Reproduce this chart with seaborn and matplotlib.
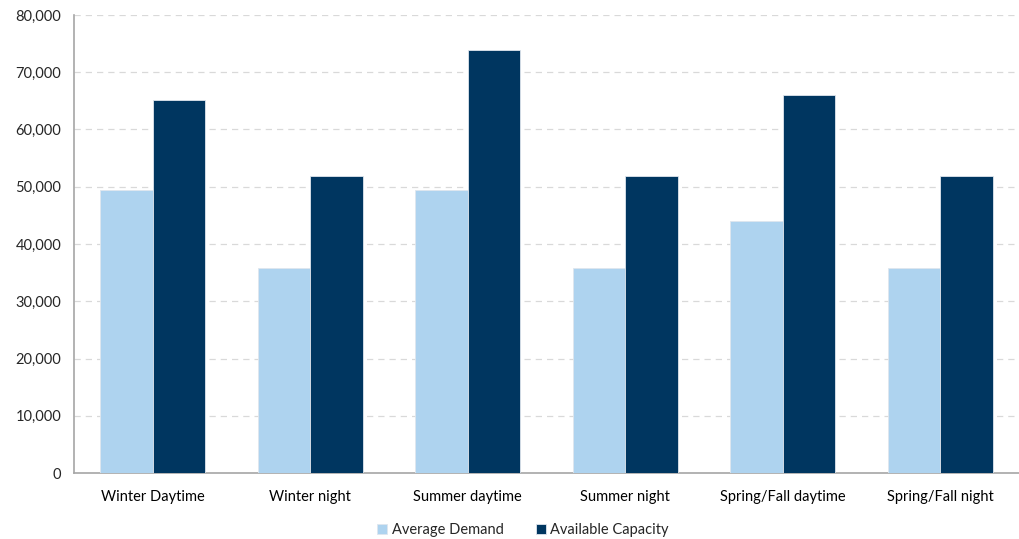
import pandas as pd
import seaborn as sns
import matplotlib.pyplot as plt
from matplotlib.ticker import FuncFormatter

# Demand vs capacity by season / time of day
periods = ["Winter Daytime", "Winter night", "Summer daytime",
           "Summer night", "Spring/Fall daytime", "Spring/Fall night"]
avg_demand = [49500, 35800, 49500, 35800, 44000, 35800]
avail_capacity = [65100, 51900, 73800, 51900, 66000, 51900]
series_names = ["Average Demand", "Available Capacity"]
colors = ["#AED3EF", "#003660"]

df = pd.DataFrame({
    "period": periods * 2,
    "series": [series_names[0]] * len(periods) + [series_names[1]] * len(periods),
    "value": avg_demand + avail_capacity,
})

sns.set_style("white")
plt.rcParams["font.family"] = ["Lato", "DejaVu Sans"]

fig = plt.figure(figsize=(10.19, 5.39), dpi=100)
ax = fig.add_axes([0.0726, 0.1224, 0.9274, 0.8498])

sns.barplot(data=df, x="period", y="value", hue="series", palette=colors,
            saturation=1, width=0.667, edgecolor="#dfe6ee", linewidth=0.6,
            ax=ax, zorder=3)

ax.set_ylim(0, 80000)
ax.set_xlim(-0.5, len(periods) - 0.5)
ax.set_yticks(range(0, 80001, 10000))
ax.yaxis.set_major_formatter(FuncFormatter(lambda v, p: f"{int(v):,}"))
ax.grid(axis="y", color="#d9d9d9", linestyle=(0, (5, 4)), linewidth=0.9, zorder=0)
ax.set_xlabel("")
ax.set_ylabel("")

for s in ["top", "right"]:
    ax.spines[s].set_visible(False)
for s in ["left", "bottom"]:
    ax.spines[s].set_color("#a6a6a6")
    ax.spines[s].set_linewidth(1.2)

# ticks between categories on x, outward ticks on y
ax.set_xticks([i + 0.5 for i in range(-1, len(periods))], minor=True)
ax.tick_params(axis="x", which="minor", length=6, color="#a6a6a6", width=1.2)
ax.tick_params(axis="x", which="major", length=0, labelsize=10.5, pad=12, colors="black")
ax.tick_params(axis="y", length=5, color="#a6a6a6", width=1.2, labelsize=10.5, pad=4)

ax.legend(loc="upper center", bbox_to_anchor=(0.475, -0.08), ncol=2, frameon=False,
          fontsize=10.5, handlelength=0.7, handleheight=0.7, handletextpad=0.3,
          columnspacing=2.2)

plt.savefig("out.png", dpi=100)
